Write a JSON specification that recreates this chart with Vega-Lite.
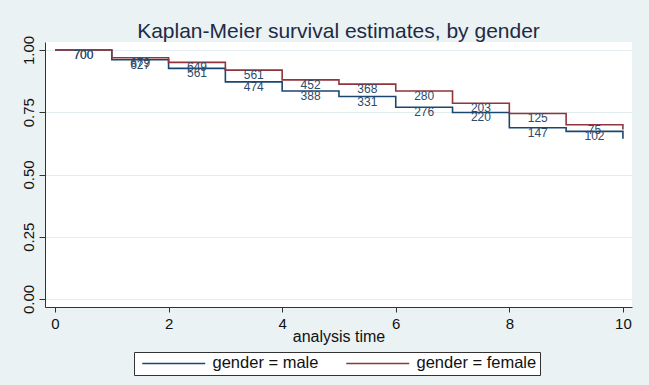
{
  "$schema": "https://vega.github.io/schema/vega-lite/v6.json",
  "width": 587,
  "height": 265,
  "autosize": {"type": "none"},
  "padding": {"left": 45, "top": 42, "right": 17, "bottom": 78},
  "background": "#EAF2F3",
  "view": {"fill": "white", "stroke": null},
  "title": {
    "text": "Kaplan-Meier survival estimates, by gender",
    "font": "Liberation Sans",
    "fontSize": 21,
    "fontWeight": "normal",
    "color": "#1f2a44",
    "anchor": "middle",
    "frame": "group",
    "baseline": "alphabetic",
    "offset": -24
  },
  "data": {
    "values": [
      {"gender": "male", "time": 0, "surv": 1.0, "atrisk": 700},
      {"gender": "male", "time": 1, "surv": 0.961, "atrisk": 627},
      {"gender": "male", "time": 2, "surv": 0.926, "atrisk": 561},
      {"gender": "male", "time": 3, "surv": 0.872, "atrisk": 474},
      {"gender": "male", "time": 4, "surv": 0.835, "atrisk": 388},
      {"gender": "male", "time": 5, "surv": 0.813, "atrisk": 331},
      {"gender": "male", "time": 6, "surv": 0.770, "atrisk": 276},
      {"gender": "male", "time": 7, "surv": 0.749, "atrisk": 220},
      {"gender": "male", "time": 8, "surv": 0.688, "atrisk": 147},
      {"gender": "male", "time": 9, "surv": 0.673, "atrisk": 102},
      {"gender": "male", "time": 10, "surv": 0.644, "atrisk": null},
      {"gender": "female", "time": 0, "surv": 1.0, "atrisk": 700},
      {"gender": "female", "time": 1, "surv": 0.969, "atrisk": 679},
      {"gender": "female", "time": 2, "surv": 0.950, "atrisk": 649},
      {"gender": "female", "time": 3, "surv": 0.919, "atrisk": 561},
      {"gender": "female", "time": 4, "surv": 0.880, "atrisk": 452},
      {"gender": "female", "time": 5, "surv": 0.863, "atrisk": 368},
      {"gender": "female", "time": 6, "surv": 0.835, "atrisk": 280},
      {"gender": "female", "time": 7, "surv": 0.786, "atrisk": 203},
      {"gender": "female", "time": 8, "surv": 0.745, "atrisk": 125},
      {"gender": "female", "time": 9, "surv": 0.700, "atrisk": 75},
      {"gender": "female", "time": 10, "surv": 0.681, "atrisk": null}
    ]
  },
  "encoding": {
    "x": {
      "field": "time",
      "type": "quantitative",
      "scale": {"domain": [-0.176, 10.16], "nice": false, "zero": false},
      "axis": {
        "title": "analysis time",
        "values": [0, 2, 4, 6, 8, 10],
        "grid": false,
        "domainColor": "#333333",
        "tickColor": "#333333",
        "tickSize": 5,
        "labelPadding": 4,
        "labelFont": "Liberation Sans",
        "labelFontSize": 15,
        "labelColor": "#111111",
        "labelFlush": false,
        "titleFont": "Liberation Sans",
        "titleFontSize": 16,
        "titleFontWeight": "normal",
        "titleColor": "#111111",
        "titleBaseline": "alphabetic",
        "titleY": 34
      }
    },
    "y": {
      "field": "surv",
      "type": "quantitative",
      "scale": {"domain": [-0.032, 1.032], "nice": false, "zero": false},
      "axis": {
        "title": null,
        "values": [0, 0.25, 0.5, 0.75, 1],
        "format": ".2f",
        "grid": true,
        "gridColor": "#E3ECEE",
        "gridWidth": 1,
        "domainColor": "#333333",
        "tickColor": "#333333",
        "tickSize": 6,
        "labelPadding": 3,
        "labelAngle": -90,
        "labelAlign": "center",
        "labelBaseline": "bottom",
        "labelFont": "Liberation Sans",
        "labelFontSize": 15,
        "labelColor": "#111111",
        "labelFlush": false
      }
    }
  },
  "layer": [
    {
      "mark": {"type": "line", "interpolate": "step-after", "strokeWidth": 1.6},
      "encoding": {
        "color": {
          "field": "gender",
          "type": "nominal",
          "scale": {"domain": ["male", "female"], "range": ["#1A476F", "#90353B"]},
          "legend": {
            "orient": "none",
            "legendX": 89,
            "legendY": 310,
            "direction": "horizontal",
            "columns": 2,
            "title": null,
            "symbolType": "M-1,0H20",
            "symbolSize": 36,
            "symbolStrokeWidth": 1.5,
            "labelFont": "Liberation Sans",
            "labelFontSize": 16.5,
            "labelColor": "#111111",
            "labelOffset": 59,
            "columnPadding": 22,
            "padding": 3,
            "strokeColor": "#333333",
            "fillColor": "white",
            "labelExpr": "'gender = ' + datum.label"
          }
        }
      }
    },
    {
      "transform": [{"filter": "datum.atrisk != null"}],
      "mark": {
        "type": "text",
        "font": "Liberation Sans",
        "fontSize": 12,
        "color": "#2E4A6B",
        "align": "center",
        "baseline": "top",
        "dx": 28.4,
        "dy": 0
      },
      "encoding": {"text": {"field": "atrisk", "type": "quantitative"}}
    }
  ]
}
